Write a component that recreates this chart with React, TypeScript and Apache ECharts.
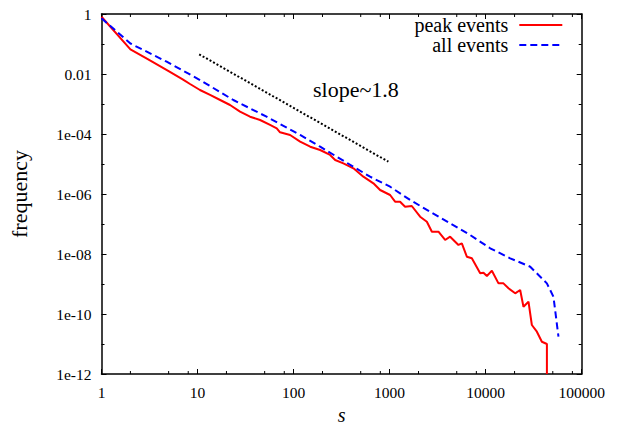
import React, { useEffect, useRef } from "react";
import * as echarts from "echarts";

// ---- data ----
const xTickValues = [0, 1, 2, 3, 4, 5];
const xTickLabels = ["1", "10", "100", "1000", "10000", "100000"];
const yTickValues = [-12, -10, -8, -6, -4, -2, 0];
const yTickLabels = ["1e-12", "1e-10", "1e-08", "1e-06", "1e-04", "0.01", "1"];
const xMinorTicks = [2, 5, 8, 20, 50, 80, 200, 500, 800, 2000, 5000, 8000, 20000, 50000, 80000];

const sPeak = [1, 2, 3, 5, 7, 8.35, 10.6, 13.5, 17.2, 21.8, 27.7, 35.2, 44.8, 56.9, 66.8, 72.3, 92, 117, 149, 189, 240, 271, 330, 420, 533, 678, 796, 1012, 1140, 1285, 1449, 1702, 2078, 2442, 2754, 3224, 3784, 4266, 5209, 5650, 6370, 7180, 8770, 9490, 10300, 11610, 13600, 15320, 17290, 20300, 22870, 24760, 27920, 30270, 34140, 38480, 43420, 43420];
const fPeak = [0.81, 0.0665, 0.0319, 0.0124, 0.00665, 0.00464, 0.00293, 0.002, 0.00136, 9.27e-4, 5.54e-4, 3.77e-4, 2.93e-4, 2.0e-4, 1.55e-4, 1.14e-4, 9.27e-5, 5.54e-5, 3.77e-5, 2.93e-5, 2.0e-5, 1.36e-5, 1.05e-5, 7.19e-6, 3.77e-6, 2.27e-6, 1.36e-6, 9.27e-7, 5.54e-7, 5.54e-7, 3.77e-7, 3.98e-7, 1.75e-7, 1.19e-7, 5.54e-8, 5.54e-8, 2.93e-8, 3.77e-8, 2.0e-8, 2.27e-8, 8.13e-9, 7.19e-9, 2.27e-9, 2.38e-9, 1.85e-9, 2.78e-9, 1.05e-9, 1.05e-9, 7.19e-10, 4.9e-10, 6.3e-10, 1.75e-10, 2.57e-10, 4.3e-11, 2.57e-11, 1.19e-11, 1.0e-11, 1e-12];

const sAll = [1, 2, 4.77, 10.6, 23.6, 52.3, 117, 189, 420, 626, 1012, 1636, 2642, 4266, 6900, 11150, 18000, 29100, 43400, 50800, 57300];
const fAll = [0.72, 0.104, 0.0257, 6.3e-3, 1.36e-3, 3.77e-4, 9.27e-5, 3.77e-5, 8.1e-6, 3.77e-6, 1.75e-6, 6.3e-7, 2.57e-7, 1.05e-7, 4.3e-8, 1.55e-8, 7.19e-9, 3.77e-9, 1.05e-9, 3.77e-10, 1.75e-11];

const sSlope = [10.4, 971];
const fSlope = [0.0454, 1.19e-5];

const FONT = "'Liberation Serif', 'Times New Roman', serif";
const L = (v: number) => Math.log10(v);
const toPts = (xs: number[], ys: number[]) => xs.map((x, i) => [L(x), L(ys[i])]);

export default function App() {
  const ref = useRef<HTMLDivElement>(null);
  useEffect(() => {
    if (!ref.current) return;
    const chart = echarts.init(ref.current, undefined, { renderer: "svg" });
    const axisLine = { show: true, onZero: false, lineStyle: { color: "#000", width: 1.5 } };
    const axisTick = { show: true, inside: true, length: 5, lineStyle: { color: "#000", width: 1 } };
    const yMinor = { show: true, splitNumber: 2, length: 3, lineStyle: { color: "#000", width: 1 } };
    const xFmt = (v: number) => {
      const i = xTickValues.indexOf(Math.round(v));
      return i >= 0 ? xTickLabels[i] : "";
    };
    const yFmt = (v: number) => {
      const i = yTickValues.indexOf(Math.round(v));
      return i >= 0 ? yTickLabels[i] : "";
    };
    const legendBase = {
      orient: "vertical",
      right: 56.7,
      align: "right",
      itemWidth: 43,
      itemHeight: 14,
      padding: 0,
      selectedMode: false,
      itemStyle: { opacity: 0, borderWidth: 0 },
      textStyle: { fontFamily: FONT, fontSize: 20, color: "#000", padding: [0, 6, 0, 0] },
    };
    const option: any = {
      animation: false,
      backgroundColor: "#fff",
      grid: { left: 101.5, right: 38.3, top: 14, bottom: 50, outerBoundsMode: "none", containLabel: false },
      legend: [
        { ...legendBase, data: ["peak events"], top: 15 },
        { ...legendBase, data: ["all events"], top: 35 },
      ],
      xAxis: [
        {
          type: "value", min: 0, max: 5, interval: 1, position: "bottom",
          name: "s", nameLocation: "middle", nameGap: 26,
          nameTextStyle: { fontFamily: FONT, fontStyle: "italic", fontSize: 20, color: "#000" },
          axisLine, axisTick,
          axisLabel: { formatter: xFmt, fontFamily: FONT, fontSize: 15.5, color: "#000", margin: 10, showMinLabel: true, showMaxLabel: true },
          splitLine: { show: false },
        },
        {
          type: "value", min: 0, max: 5, interval: 1, position: "top",
          axisLine, axisTick, axisLabel: { show: false }, splitLine: { show: false },
        },
      ],
      yAxis: [
        {
          type: "value", min: -12, max: 0, interval: 2, position: "left",
          name: "frequency", nameLocation: "middle", nameGap: 71, nameRotate: 90,
          nameTextStyle: { fontFamily: FONT, fontSize: 22, color: "#000" },
          axisLine, axisTick, minorTick: yMinor,
          axisLabel: { formatter: yFmt, fontFamily: FONT, fontSize: 15.5, color: "#000", margin: 10, showMinLabel: true, showMaxLabel: true },
          splitLine: { show: false }, minorSplitLine: { show: false },
        },
        {
          type: "value", min: -12, max: 0, interval: 2, position: "right",
          axisLine, axisTick, minorTick: yMinor, axisLabel: { show: false },
          splitLine: { show: false }, minorSplitLine: { show: false },
        },
      ],
      series: [
        {
          name: "slope", type: "line", data: toPts(sSlope, fSlope), symbol: "none", silent: true,
          lineStyle: { color: "#000", width: 2, type: [2, 2] },
        },
        {
          name: "peak events", type: "line", data: toPts(sPeak, fPeak), symbol: "none", showSymbol: false,
          itemStyle: { color: "#ff0000" }, lineStyle: { color: "#ff0000", width: 2 },
        },
        {
          name: "all events", type: "line", data: toPts(sAll, fAll), symbol: "none", showSymbol: false,
          itemStyle: { color: "#0000ff" }, lineStyle: { color: "#0000ff", width: 2, type: [7, 4] },
        },
        {
          name: "xMinorTicks", type: "custom", silent: true, clip: false, z: 10,
          data: xMinorTicks.map((v) => [L(v), -12]),
          renderItem: (_p: any, api: any) => {
            const v = api.value(0);
            const b = api.coord([v, -12]);
            const t = api.coord([v, 0]);
            const style = { stroke: "#000", lineWidth: 1 };
            return {
              type: "group",
              children: [
                { type: "line", shape: { x1: b[0], y1: b[1], x2: b[0], y2: b[1] - 3 }, style },
                { type: "line", shape: { x1: t[0], y1: t[1], x2: t[0], y2: t[1] + 3 }, style },
              ],
            };
          },
        },
      ],
      graphic: [
        {
          type: "text", left: 313, top: 78,
          style: { text: "slope~1.8", fontFamily: FONT, fontSize: 22, fill: "#000" },
        },
      ],
    };
    chart.setOption(option);
    return () => chart.dispose();
  }, []);
  return (
    <div
      ref={ref}
      style={{ position: "fixed", left: 0, top: 0, width: 620, height: 424, background: "#fff" }}
    />
  );
}
